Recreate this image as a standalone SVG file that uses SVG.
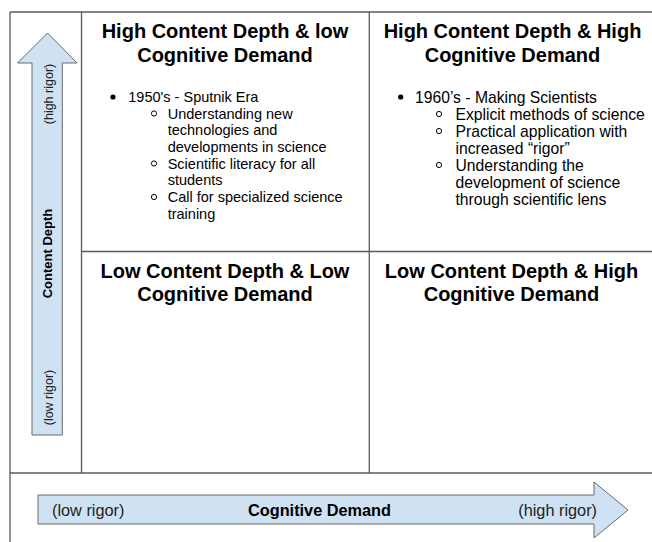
<svg xmlns="http://www.w3.org/2000/svg" width="652" height="542" viewBox="0 0 652 542">
<style>
.grid{stroke:#5a5a5a;stroke-width:1.3;fill:none}
.arrow{fill:#cfe2f3;stroke:#6b6b6b;stroke-width:1}
.t{font-family:"Liberation Sans",Arial,sans-serif;fill:#000}
.title{font-size:20px;font-weight:bold;text-anchor:middle}
.bodyL{font-size:14.5px}
.bodyR{font-size:15.7px}
.ax{font-size:12.5px;text-anchor:middle;fill:#222}
.axb{font-size:13px;font-weight:bold;text-anchor:middle}
.hx{font-size:16.3px;fill:#222}
.hxb{font-size:16.3px;font-weight:bold;text-anchor:middle}
.dot{fill:#000}
.ring{fill:none;stroke:#000;stroke-width:1}
</style>
<rect width="652" height="542" fill="#fff"/>
<g id="connectors">
<line class="grid" x1="10" y1="12" x2="652" y2="12"/>
<line class="grid" x1="10" y1="12" x2="10" y2="542"/>
<line class="grid" x1="81.5" y1="12" x2="81.5" y2="473"/>
<line class="grid" x1="369.3" y1="12" x2="369.3" y2="473"/>
<line class="grid" x1="81.5" y1="251.5" x2="652" y2="251.5"/>
<line class="grid" x1="10" y1="473" x2="652" y2="473"/>
</g>
<g id="axis-vertical">
<path class="arrow" d="M32,435 L32,63 L17.5,63 L47.5,33 L77,63 L62.3,63 L62.3,435 Z"/>
<text class="t ax" transform="translate(52.5,94) rotate(-90)">(high rigor)</text>
<text class="t axb" transform="translate(52,253.5) rotate(-90)">Content Depth</text>
<text class="t ax" transform="translate(52.5,397.5) rotate(-90)">(low rigor)</text>
</g>
<g id="axis-horizontal">
<path class="arrow" d="M38,495 L594,495 L594,482 L628,510 L594,538 L594,524 L38,524 Z"/>
<text class="t hx" x="52" y="515.5">(low rigor)</text>
<text class="t hxb" x="319.5" y="515.5">Cognitive Demand</text>
<text class="t hx" x="597" y="515.5" text-anchor="end">(high rigor)</text>
</g>
<g id="q-high-low">
<text class="t title" x="225" y="37.5">High Content Depth &amp; low</text>
<text class="t title" x="225" y="61.5">Cognitive Demand</text>
<circle class="dot" cx="113" cy="97" r="2.6"/>
<text class="t bodyL" x="128.3" y="102">1950's - Sputnik Era</text>
<circle class="ring" cx="154" cy="113.5" r="2.6"/>
<text class="t bodyL" x="167.7" y="118.5">Understanding new</text>
<text class="t bodyL" x="167.7" y="135">technologies and</text>
<text class="t bodyL" x="167.7" y="151.5">developments in science</text>
<circle class="ring" cx="154" cy="163.5" r="2.6"/>
<text class="t bodyL" x="167.7" y="168.5">Scientific literacy for all</text>
<text class="t bodyL" x="167.7" y="185">students</text>
<circle class="ring" cx="154" cy="197" r="2.6"/>
<text class="t bodyL" x="167.7" y="202">Call for specialized science</text>
<text class="t bodyL" x="167.7" y="218.5">training</text>
</g>
<g id="q-high-high">
<text class="t title" x="512.5" y="37.5">High Content Depth &amp; High</text>
<text class="t title" x="512.5" y="61.5">Cognitive Demand</text>
<circle class="dot" cx="400.7" cy="97" r="2.6"/>
<text class="t bodyR" x="415" y="102.5">1960’s - Making Scientists</text>
<circle class="ring" cx="439" cy="114" r="2.6"/>
<text class="t bodyR" x="455.5" y="119.5">Explicit methods of science</text>
<circle class="ring" cx="439" cy="131" r="2.6"/>
<text class="t bodyR" x="455.5" y="136.5">Practical application with</text>
<text class="t bodyR" x="455.5" y="153.5">increased “rigor”</text>
<circle class="ring" cx="439" cy="165" r="2.6"/>
<text class="t bodyR" x="455.5" y="170.5">Understanding the</text>
<text class="t bodyR" x="455.5" y="187.5">development of science</text>
<text class="t bodyR" x="455.5" y="204.5">through scientific lens</text>
</g>
<g id="q-low-low">
<text class="t title" x="225" y="277.5">Low Content Depth &amp; Low</text>
<text class="t title" x="225" y="301">Cognitive Demand</text>
</g>
<g id="q-low-high">
<text class="t title" x="511.5" y="277.5">Low Content Depth &amp; High</text>
<text class="t title" x="511.5" y="301">Cognitive Demand</text>
</g>
</svg>
